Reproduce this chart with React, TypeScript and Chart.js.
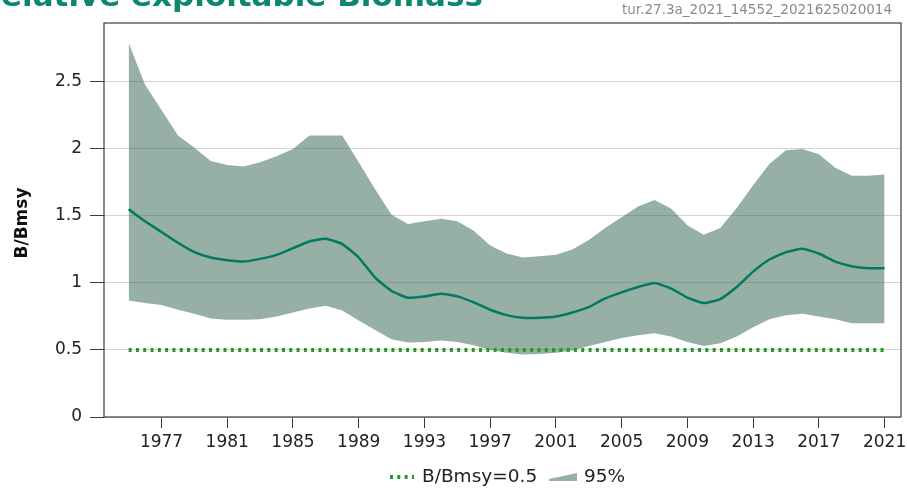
import React, { useEffect, useRef } from "react";
import { Chart, registerables } from "chart.js";

Chart.register(...registerables);

const years = [
  1975, 1976, 1977, 1978, 1979, 1980, 1981, 1982, 1983, 1984,
  1985, 1986, 1987, 1988, 1989, 1990, 1991, 1992, 1993, 1994,
  1995, 1996, 1997, 1998, 1999, 2000, 2001, 2002, 2003, 2004,
  2005, 2006, 2007, 2008, 2009, 2010, 2011, 2012, 2013, 2014,
  2015, 2016, 2017, 2018, 2019, 2020, 2021,
];

const median = [
  1.55, 1.46, 1.38, 1.30, 1.23, 1.19, 1.17, 1.16, 1.18, 1.21,
  1.26, 1.31, 1.33, 1.29, 1.19, 1.04, 0.94, 0.89, 0.90, 0.92,
  0.90, 0.855, 0.80, 0.76, 0.74, 0.74, 0.75, 0.78, 0.82, 0.885,
  0.93, 0.97, 1.00, 0.96, 0.89, 0.85, 0.88, 0.97, 1.085, 1.175,
  1.23, 1.255, 1.22, 1.16, 1.125, 1.11, 1.11,
];

const upper = [
  2.79, 2.48, 2.29, 2.10, 2.01, 1.91, 1.88, 1.87, 1.90, 1.945,
  2.00, 2.10, 2.10, 2.10, 1.90, 1.70, 1.51, 1.44, 1.46, 1.48,
  1.46, 1.39, 1.28, 1.22, 1.19, 1.20, 1.21, 1.25, 1.32, 1.41,
  1.49, 1.57, 1.62, 1.555, 1.43, 1.36, 1.41, 1.56, 1.73, 1.89,
  1.99, 2.00, 1.96, 1.86, 1.80, 1.80, 1.81,
];

const lower = [
  0.87, 0.85, 0.835, 0.80, 0.77, 0.735, 0.725, 0.725, 0.73, 0.75,
  0.78, 0.81, 0.83, 0.795, 0.72, 0.65, 0.58, 0.555, 0.56, 0.57,
  0.56, 0.535, 0.50, 0.48, 0.467, 0.47, 0.48, 0.497, 0.53, 0.56,
  0.59, 0.61, 0.625, 0.60, 0.56, 0.53, 0.55, 0.60, 0.67, 0.73,
  0.76, 0.77, 0.75, 0.73, 0.70, 0.70, 0.70,
];

const refLevel = 0.5;

const xTickYears = [1977, 1981, 1985, 1989, 1993, 1997, 2001, 2005, 2009, 2013, 2017, 2021];
const yTickValues = [0, 0.5, 1, 1.5, 2, 2.5];

const titleText = "Relative exploitable Biomass";
const stampText = "tur.27.3a_2021_14552_2021625020014";
const yAxisTitle = "B/Bmsy";
const legendRefLabel = "B/Bmsy=0.5";
const legendBandLabel = "95%";

const FONT = "'DejaVu Sans', 'Noto Sans', sans-serif";
const TEAL = "#007a62";
const TITLE_TEAL = "#0a876d";
const BAND = "rgba(45, 97, 77, 0.5)";
const BAND_SOLID = "#96b0a6";
const REF_GREEN = "#2a962a";
const TEXT = "#222222";

const decorPlugin = {
  id: "decor",
  afterDatasetsDraw(chart: any) {
    const { ctx, chartArea } = chart;
    ctx.save();
    ctx.strokeStyle = "#3a3a3a";
    ctx.lineWidth = 1.2;
    ctx.strokeRect(chartArea.left, chartArea.top, chartArea.right - chartArea.left, chartArea.bottom - chartArea.top);
    ctx.restore();
  },
  afterDraw(chart: any) {
    const { ctx } = chart;
    ctx.save();
    // Title (partly clipped at top)
    ctx.font = `bold 31px ${FONT}`;
    ctx.fillStyle = TITLE_TEAL;
    ctx.textBaseline = "alphabetic";
    ctx.textAlign = "left";
    const rW = ctx.measureText("R").width;
    ctx.fillText(titleText, -rW + 1, 6);

    // Stamp top-right
    ctx.font = `13.5px ${FONT}`;
    ctx.fillStyle = "#8a8a8a";
    ctx.textAlign = "right";
    ctx.textBaseline = "middle";
    ctx.fillText(stampText, 892, 10);

    // Y axis title
    ctx.save();
    ctx.translate(23, 223);
    ctx.rotate(-Math.PI / 2);
    ctx.font = `bold 17px ${FONT}`;
    ctx.fillStyle = "#111";
    ctx.textAlign = "center";
    ctx.textBaseline = "middle";
    ctx.fillText(yAxisTitle, 0, 0);
    ctx.restore();

    // Legend
    const ly = 477;
    ctx.strokeStyle = REF_GREEN;
    ctx.lineWidth = 4;
    ctx.setLineDash([3, 4.3]);
    ctx.beginPath();
    ctx.moveTo(390, ly);
    ctx.lineTo(414, ly);
    ctx.stroke();
    ctx.setLineDash([]);

    ctx.font = `18.5px ${FONT}`;
    ctx.fillStyle = TEXT;
    ctx.textAlign = "left";
    ctx.textBaseline = "middle";
    ctx.fillText(legendRefLabel, 422, ly);

    ctx.fillStyle = BAND_SOLID;
    ctx.beginPath();
    ctx.moveTo(549, 481);
    ctx.lineTo(549, 479);
    ctx.lineTo(577, 473);
    ctx.lineTo(577, 481);
    ctx.closePath();
    ctx.fill();

    ctx.fillStyle = TEXT;
    ctx.fillText(legendBandLabel, 584, ly);
    ctx.restore();
  },
};

export default function App() {
  const canvasRef = useRef<HTMLCanvasElement | null>(null);

  useEffect(() => {
    const canvas = canvasRef.current;
    if (!canvas) return;
    const pts = (arr: number[]) => years.map((y, i) => ({ x: y, y: arr[i] }));
    const chart = new Chart(canvas, {
      type: "line",
      data: {
        datasets: [
          {
            label: "lower",
            data: pts(lower),
            borderWidth: 0,
            pointRadius: 0,
            fill: false,
            borderColor: "rgba(0,0,0,0)",
            order: 3,
          },
          {
            label: legendBandLabel,
            data: pts(upper),
            borderWidth: 0,
            pointRadius: 0,
            borderColor: "rgba(0,0,0,0)",
            backgroundColor: BAND,
            fill: "-1",
            order: 2,
          },
          {
            label: "median",
            data: pts(median),
            borderColor: TEAL,
            borderWidth: 2.5,
            pointRadius: 0,
            tension: 0.15,
            fill: false,
            order: 1,
          },
          {
            label: legendRefLabel,
            data: years.map((y) => ({ x: y, y: refLevel })),
            borderColor: REF_GREEN,
            borderWidth: 4,
            borderDash: [3, 4.3],
            borderCapStyle: "butt",
            pointRadius: 0,
            fill: false,
            order: 0,
          },
        ],
      },
      options: {
        responsive: false,
        animation: false,
        layout: { padding: { left: 0, top: 23, right: 6, bottom: 0 } },
        plugins: {
          legend: { display: false },
          tooltip: { enabled: false },
          title: { display: false },
        },
        scales: {
          x: {
            type: "linear",
            min: 1973.5,
            max: 2022,
            afterBuildTicks: (scale: any) => {
              scale.ticks = xTickYears.map((v) => ({ value: v }));
            },
            afterFit: (scale: any) => {
              scale.height = 74;
              scale.paddingLeft = 0;
              scale.paddingRight = 0;
            },
            grid: {
              drawOnChartArea: false,
              drawTicks: true,
              tickLength: 11,
              tickColor: "#3a3a3a",
              tickWidth: 1,
            },
            border: { display: false },
            ticks: {
              autoSkip: false,
              maxRotation: 0,
              padding: 4,
              color: TEXT,
              font: { family: FONT, size: 17 },
              callback: (v: any) => String(v),
            },
          },
          y: {
            type: "linear",
            min: 0,
            max: 2.94,
            afterBuildTicks: (scale: any) => {
              scale.ticks = yTickValues.map((v) => ({ value: v }));
            },
            afterFit: (scale: any) => {
              scale.width = 104;
              scale.paddingTop = 0;
              scale.paddingBottom = 0;
            },
            grid: {
              color: "#d4d4d4",
              lineWidth: 1,
              drawTicks: true,
              tickLength: 14,
              tickColor: "#3a3a3a",
              tickWidth: 1,
            },
            border: { display: false },
            ticks: {
              padding: 8,
              color: TEXT,
              font: { family: FONT, size: 17 },
              callback: (v: any) => String(v),
            },
          },
        },
      },
      plugins: [decorPlugin],
    } as any);
    return () => chart.destroy();
  }, []);

  return (
    <canvas
      ref={canvasRef}
      width={907}
      height={491}
      style={{ position: "fixed", left: 0, top: 0, display: "block", width: 907, height: 491 }}
    />
  );
}
